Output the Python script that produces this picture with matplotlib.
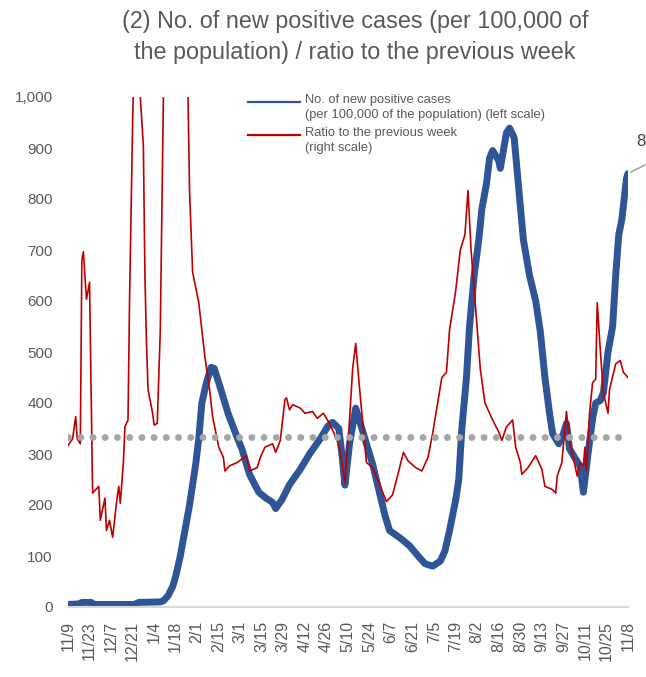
import numpy as np
import pandas as pd
import matplotlib.pyplot as plt
from matplotlib.lines import Line2D

plt.rcParams['font.family'] = ['Liberation Sans', 'DejaVu Sans']

start = pd.Timestamp('2020-11-09')

# new positive cases per 100,000 (left scale), days since 2020-11-09
cases_day = [0, 7, 9, 15, 17, 43, 46, 60, 62, 65, 68, 70, 73, 76, 79, 83, 85, 87, 90, 93, 95,
             99, 104, 109, 113, 118, 124, 128, 133, 135, 139, 144, 151, 157, 164, 169, 172,
             176, 178, 180, 183, 187, 190, 193, 198, 202, 206, 209, 216, 222, 229, 232, 237,
             242, 245, 248, 252, 254, 256, 259, 261, 264, 267, 269, 272, 274, 276, 280, 281,
             283, 285, 287, 290, 293, 296, 300, 304, 307, 310, 313, 315, 319, 322, 324, 326,
             330, 333, 335, 338, 341, 343, 346, 348, 351, 354, 356, 358, 360, 363, 364]
cases = [5, 6, 9, 9, 5, 5, 9, 10, 12, 22, 40, 60, 100, 150, 200, 280, 330, 400, 440, 470, 468,
         430, 380, 340, 310, 260, 225, 215, 205, 193, 210, 240, 270, 300, 330, 355, 362,
         350, 300, 239, 320, 390, 360, 330, 280, 230, 180, 150, 135, 120, 95, 85, 80,
         90, 110, 150, 210, 250, 350, 450, 550, 650, 720, 780, 830, 880, 895, 875, 860,
         895, 930, 939, 920, 820, 720, 650, 600, 540, 450, 380, 340, 320, 340, 360, 310,
         290, 275, 225, 300, 370, 400, 405, 420, 500, 550, 650, 730, 760, 840, 850]

# ratio to the previous week (right scale)
ratio_day = [0, 3, 5, 6, 8, 9, 10, 12, 14, 16, 20, 21, 24, 25, 27, 29, 32, 33, 34, 36, 37, 39,
             40, 42, 44, 47, 49, 50, 51, 52, 55, 56, 58, 60, 62, 70, 78, 79, 81, 85, 87, 89,
             92, 94, 98, 101, 102, 105, 110, 116, 118, 123, 125, 128, 133, 135, 138, 141, 142,
             144, 146, 151, 154, 159, 162, 166, 170, 175, 177, 180, 183, 185, 187, 189, 192,
             194, 198, 203, 207, 211, 215, 218, 221, 226, 230, 234, 237, 241, 243, 246, 248,
             252, 255, 258, 260, 262, 266, 268, 271, 276, 280, 282, 285, 289, 291, 294, 295,
             299, 304, 308, 310, 315, 317, 318, 321, 324, 326, 330, 331, 333, 335, 336, 337,
             339, 341, 343, 344, 346, 348, 351, 352, 356, 359, 361, 364]
ratio = [0.95, 0.99, 1.12, 0.99, 0.96, 2.04, 2.09, 1.81, 1.91, 0.67, 0.71, 0.51, 0.64, 0.45,
         0.51, 0.41, 0.65, 0.71, 0.61, 0.85, 1.06, 1.10, 1.80, 2.85, 3.6, 3.0, 2.71, 1.95,
         1.56, 1.28, 1.14, 1.07, 1.08, 1.63, 3.0, 6.0, 3.0, 2.45, 1.97, 1.79, 1.63, 1.47,
         1.28, 1.12, 0.94, 0.88, 0.80, 0.83, 0.85, 0.89, 0.80, 0.82, 0.88, 0.94, 0.96, 0.91,
         0.98, 1.22, 1.23, 1.16, 1.19, 1.17, 1.14, 1.15, 1.11, 1.14, 1.08, 0.98, 0.91, 0.73,
         1.10, 1.40, 1.55, 1.34, 1.04, 0.85, 0.82, 0.71, 0.62, 0.66, 0.80, 0.91, 0.86, 0.82,
         0.80, 0.88, 1.02, 1.24, 1.35, 1.38, 1.63, 1.86, 2.10, 2.19, 2.45, 2.10, 1.63, 1.40,
         1.20, 1.10, 1.03, 0.98, 1.06, 1.10, 0.94, 0.85, 0.78, 0.82, 0.89, 0.81, 0.71, 0.69,
         0.67, 0.77, 0.85, 1.15, 0.98, 0.81, 0.77, 0.85, 0.83, 0.94, 0.80, 1.14, 1.32, 1.34,
         1.79, 1.51, 1.26, 1.14, 1.28, 1.43, 1.45, 1.38, 1.35]

last_label = '855'
yticks = list(range(0, 1001, 100))

cases_dt = start + pd.to_timedelta(cases_day, unit='D')
ratio_dt = start + pd.to_timedelta(ratio_day, unit='D')
tick_dt = pd.date_range(start, periods=27, freq='14D')

txt = '#595959'
fig = plt.figure(figsize=(6.46, 6.77), dpi=100)
ax = fig.add_axes([68 / 646, 1 - 607 / 677, 560 / 646, 510 / 677])

ax.plot(cases_dt, cases, color='#2F5597', lw=5, solid_capstyle='round', solid_joinstyle='round')
ax.set_ylim(0, 1000)
ax.set_xlim(start, start + pd.Timedelta(days=364))
ax.set_yticks(yticks)
ax.set_yticklabels([f'{v:,}' for v in yticks], fontsize=11, color=txt)
ax.set_xticks(tick_dt)
ax.set_xticklabels([f'{d.month}/{d.day}' for d in tick_dt], rotation=90, fontsize=11.5, color=txt)
ax.tick_params(axis='y', length=0, pad=11)
ax.tick_params(axis='x', length=0, pad=10)
for s in ['top', 'right', 'left']:
    ax.spines[s].set_visible(False)
ax.spines['bottom'].set_color('#D9D9D9')
ax.spines['bottom'].set_linewidth(1.5)

ax2 = ax.twinx()
ax2.plot(ratio_dt, ratio, color='#C00000', lw=1.2)
ax2.plot([start, start + pd.Timedelta(days=359)], [1, 1], color='#A6A6A6', lw=5,
         linestyle=(0, (0.01, 1.75)), dash_capstyle='round')
ax2.set_ylim(0, 3)
ax2.set_axis_off()

# label on the last point (cut at the right edge)
end = (cases_dt[-1], cases[-1])
ax.annotate('', xy=end, xytext=(14, 7), textcoords='offset points',
            arrowprops=dict(arrowstyle='-', color='#A6A6A6', lw=1.2), annotation_clip=False)
ax.annotate(last_label, xy=end, xytext=(6, 23), textcoords='offset points',
            fontsize=12, color='#404040', va='center', annotation_clip=False)

# legend
fig.add_artist(Line2D([248 / 646, 300 / 646], [1 - 102 / 677] * 2, color='#2F5597', lw=1.6))
fig.add_artist(Line2D([248 / 646, 300 / 646], [1 - 135 / 677] * 2, color='#C00000', lw=1.6))
fig.text(305 / 646, 1 - 94 / 677, 'No. of new positive cases\n(per 100,000 of the population) (left scale)',
         fontsize=9.3, color=txt, va='top', linespacing=1.35)
fig.text(305 / 646, 1 - 127 / 677, 'Ratio to the previous week\n(right scale)',
         fontsize=9.3, color=txt, va='top', linespacing=1.35)

fig.text(355 / 646, 1 - 37 / 677,
         '(2) No. of new positive cases (per 100,000 of\nthe population) / ratio to the previous week',
         ha='center', va='center', multialignment='center', fontsize=16.8, color=txt, linespacing=1.4)

fig.savefig('out.png', dpi=100)
